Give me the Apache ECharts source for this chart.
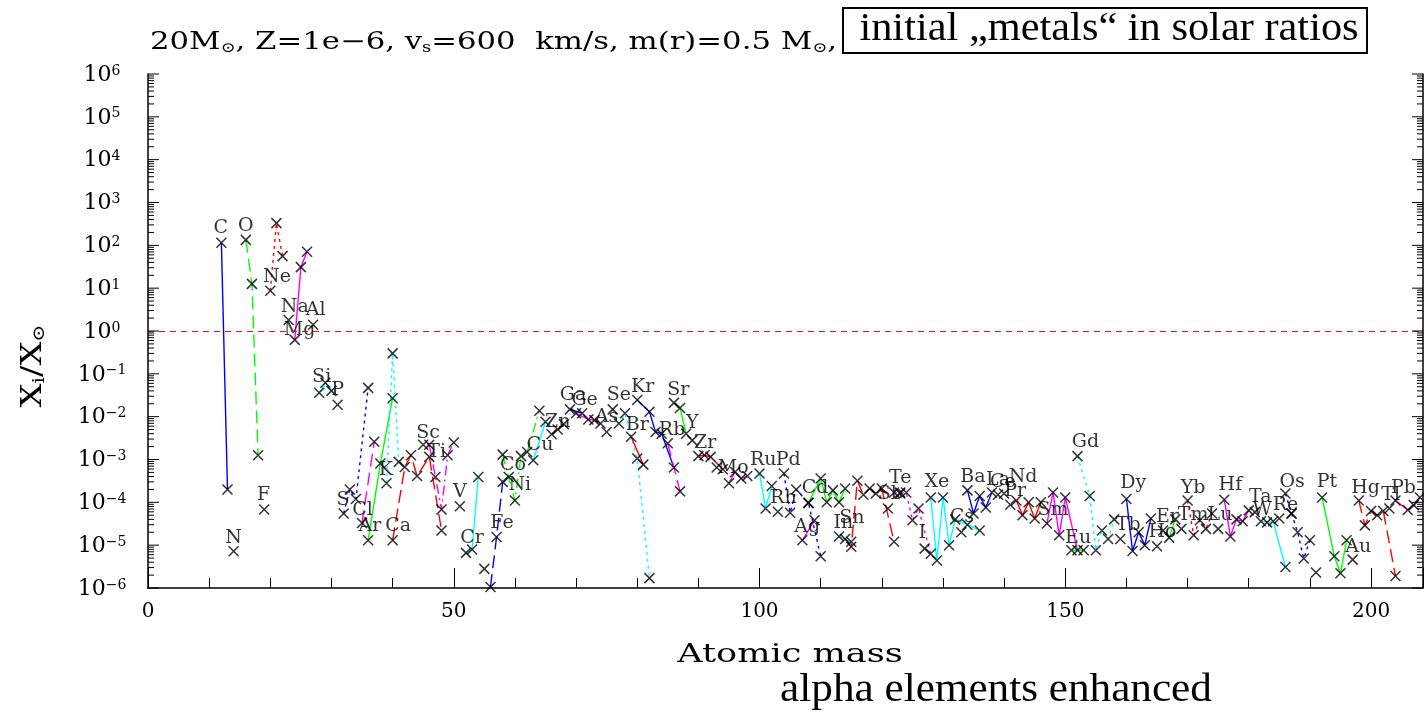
<!DOCTYPE html>
<html><head><meta charset="utf-8">
<script src="https://cdn.jsdelivr.net/npm/echarts@6/dist/echarts.min.js"></script>
<style>html,body{margin:0;padding:0;background:#fff}#c{width:1424px;height:712px}</style>
</head><body><div id="c"></div>
<script>
// ---- data ----
const elements = ['C','N','O','F','Ne','Na','Mg','Al','Si','P','S','Cl','Ar','K','Ca','Sc','Ti','V','Cr','Mn','Fe','Co','Ni','Cu','Zn','Ga','Ge','As','Se','Br','Kr','Rb','Sr','Y','Zr','Nb','Mo','Ru','Rh','Pd','Ag','Cd','In','Sn','Sb','Te','I','Xe','Cs','Ba','La','Ce','Pr','Nd','Sm','Eu','Gd','Tb','Dy','Ho','Er','Tm','Yb','Lu','Hf','Ta','W','Re','Os','Ir','Pt','Au','Hg','Tl','Pb'];
const atomicNumber = [6,7,8,9,10,11,12,13,14,15,16,17,18,19,20,21,22,23,24,25,26,27,28,29,30,31,32,33,34,35,36,37,38,39,40,41,42,44,45,46,47,48,49,50,51,52,53,54,55,56,57,58,59,60,62,63,64,65,66,67,68,69,70,71,72,73,74,75,76,77,78,79,80,81,82];
const isoMass = [
 [12,13],[14],[16,17,18],[19],[20,21,22],[23],[24,25,26],[27],[28,29,30],[31],
 [32,33,34,36],[35,37],[36,38,40],[39,40,41],[40,42,43,44,46,48],[45],[46,47,48,49,50],[51],[52,53,54],[55],
 [56,57,58],[59],[58,60,61,62,64],[63,65],[66,67,68],[69,71],[70,72,73,74],[75],[76,77,78,80,82],[79,81],
 [80,82,83,84,86],[85,87],[86,87,88],[89],[90,91,92,94],[93],[95,96,97,98],[100,101,102],[103],[104,105,106,108,110],
 [107,109],[108,110,111,112,113,114],[113,115],[114,115,116,117,118,119,120,122],[121,123],[122,123,124,125,126,128],[127],[128,129,130,131,132,134,136],[133],[134,135,136,137,138],
 [139],[140],[141],[142,143,144,145,146],[147,148,149,150,152],[151,153],[152,154,155,156,157,158],[159],[160,161,162,163,164],[165],
 [166,167,168],[169],[170,171,172,173,174],[175],[176,177,178,179,180],[181],[182,183,184,186],[185,187],[186,187,188,189,190],[191],
 [192,194,195,196],[197],[198,199,200,201,202,204],[203],[204,206,207,208]
];
const isoRatio = [
 [115,2.0e-4],[7.2e-6],[134,12.6,1.26e-3],[6.8e-5],[8.7,330,56],[1.8],[0.62,31,71],[1.4],[0.036,0.062,0.040],[0.019],
 [5.5e-5,2.0e-4,1.2e-4,0.047],[3.3e-5,2.6e-3],[1.3e-5,8.1e-4,0.027],[2.8e-4,0.30,8.8e-4],[1.3e-5,6.7e-4,1.26e-3,4.1e-4,1.15e-3,2.2e-5],[2.2e-3],[2.2e-3,3.9e-4,6.8e-5,1.26e-3,2.5e-3],[8.1e-5],[6.6e-6,7.9e-6,3.9e-4],[2.8e-6],
 [1.05e-6,1.55e-5,3.0e-4],[3.9e-4],[1.3e-3,1.1e-4,1.2e-3,1.5e-3,0.0138],[9.6e-4,7.6e-3],[3.9e-3,5.0e-3,6.7e-3],[0.0148,0.012],[0.012,8.6e-3,8.3e-3,6.9e-3],[4.4e-3],[0.0148,6.9e-3,0.012,1.05e-3,1.7e-6],[3.4e-3,7.6e-4],
 [0.0245,0.013,4.4e-3,4.0e-3,6.5e-4],[2.4e-3,1.8e-4],[0.021,0.016,4.0e-3],[2.8e-3],[1.2e-3,1.26e-3,1.15e-3,5.9e-4],[6.5e-4],[2.8e-4,5.1e-4,3.6e-4,4.1e-4],[4.7e-4,7.2e-5,2.4e-4],[6.0e-5],[4.7e-4,5.7e-5,2.0e-4,9.7e-5,5.5e-6],
 [1.3e-5,3.8e-5],[9.7e-5,3.6e-4,1.0e-4,1.9e-4,1.0e-4,2.1e-4],[1.6e-5,1.2e-5],[1.4e-5,9.2e-6,3.2e-4,1.5e-4,2.1e-4,1.6e-4,2.1e-4,1.2e-5],[7.2e-5,1.7e-4],[1.7e-4,1.6e-4,1.7e-4,3.8e-5,7.2e-5,6.3e-6],[8.3e-6],[1.3e-4,4.4e-6,1.3e-4,1.0e-5,4.0e-5,3.0e-5,2.2e-5],[2.0e-5],[1.9e-4,5.5e-5,1.4e-4,7.6e-5,1.7e-4],
 [1.5e-4],[1.6e-4],[8.8e-5],[1.1e-4,5.0e-5,1.0e-4,4.2e-5,1.0e-4],[3.2e-5,1.7e-4,1.7e-5,1.3e-4,7.6e-6],[7.6e-6,7.6e-6],[1.2e-3,1.4e-4,7.6e-6,2.2e-5,1.4e-5,4.0e-5],[1.4e-5],[1.2e-4,7.3e-6,2.0e-5,1.0e-5,4.2e-5],[9.4e-6],
 [2.2e-5,1.5e-5,4.0e-5],[2.4e-5],[1.1e-4,1.7e-5,3.8e-5,2.4e-5,5.5e-5],[2.4e-5],[1.15e-4,1.6e-5,4.0e-5,3.6e-5,6.5e-5],[5.9e-5],[3.6e-5,3.4e-5,3.6e-5,3.1e-6],[4.2e-5,5.5e-5],[1.6e-4,5.5e-5,2.0e-5,4.9e-6,1.3e-5],[2.3e-6],
 [1.3e-4,5.5e-6,2.2e-6,1.3e-5],[4.6e-6],[1.1e-4,2.9e-5,6.3e-5,5.0e-5,6.3e-5,1.9e-6],[7.2e-5],[1.1e-4,6.6e-5,8.6e-5,1.3e-4]
];
// line pattern per element: s solid, d dashed, o dotted, dd dash-dot, n none
const linePattern = ['s','s','d','s','o','s','s','s','s','s','o','d','s','o','d','s','dd','s','s','s','d','s','dd','s','s','s','s','s','o','s','s','d','s','s','d','s','s','s','s','o','s','s','s','d','n','o','s','s','s','s','s','s','s','s','s','s','o','s','s','s','s','s','o','s','s','s','s','n','o','s','s','s','d','s','s'];
// element label anchor positions [atomic mass, ratio]; null = no label
const labelMass = [11.9,14.0,16.0,18.9,21.1,24.0,24.8,27.4,28.4,31.0,31.9,35.1,36.3,38.9,40.9,45.8,47.2,51.0,53.0,null,57.9,59.7,60.8,64.1,67.0,69.5,71.4,75.0,77.0,80.0,80.9,85.7,86.7,89.0,91.1,null,95.7,100.6,103.9,104.7,107.8,109.1,113.7,115.1,121.4,123.0,126.6,129.0,133.1,134.9,139.0,139.8,141.8,143.1,148.0,152.1,153.3,160.3,161.1,165.9,166.7,170.9,170.9,175.3,177.0,181.9,182.2,186.0,187.1,null,192.8,197.9,199.1,203.2,205.3];
const labelRatio = [257,1.5e-5,285,1.5e-4,18,3.6,1.05,3.1,0.083,0.042,1.1e-4,6.6e-5,2.8e-5,5.6e-4,2.8e-5,4.1e-3,1.5e-3,1.7e-4,1.45e-5,null,3.2e-5,7.4e-4,2.5e-4,2.2e-3,7.4e-3,0.032,0.024,9.8e-3,0.032,6.3e-3,0.049,4.9e-3,0.042,7.1e-3,2.4e-3,null,6.3e-4,9.6e-4,1.25e-4,9.6e-4,2.6e-5,2.2e-4,3.2e-5,4.3e-5,1.6e-4,3.7e-4,1.9e-5,3.0e-4,4.5e-5,3.9e-4,3.3e-4,3.0e-4,1.8e-4,3.9e-4,6.6e-5,1.5e-5,2.6e-3,2.9e-5,2.8e-4,2.0e-5,4.5e-5,5.0e-5,2.2e-4,5.0e-5,2.5e-4,1.3e-4,6.6e-5,8.5e-5,3.0e-4,null,3.0e-4,8.9e-6,2.2e-4,1.5e-4,2.2e-4];
const xTickLabels = [0,50,100,150,200];
const yExponents = [-6,-5,-4,-3,-2,-1,0,1,2,3,4,5,6];
const solarLine = 1;

// ---- styling ----
const X_MAX = 208.5;
const cycleColors = ['#ff0000','#0000ff','#ff00ff','#00ff00','#00ffff']; // indexed by Z mod 5
const dashMap = {s:'solid', d:[13,6], o:[3,4], dd:[10,4,2,4]};
const serif = '"DejaVu Serif", "Liberation Serif", serif';

const series = [];
elements.forEach((el, i) => {
  if (isoMass[i].length < 2 || linePattern[i] === 'n') return;
  series.push({
    type:'line', name: el, silent:true, animation:false, z:2,
    showSymbol:false, symbol:'none',
    data: isoMass[i].map((m,k)=>[m, isoRatio[i][k]]),
    lineStyle:{color: cycleColors[atomicNumber[i] % 5], width:1.4, type: dashMap[linePattern[i]]}
  });
});
const markerData = [];
elements.forEach((el,i)=> isoMass[i].forEach((m,k)=> markerData.push([m, isoRatio[i][k]])));
series.push({
  type:'scatter', silent:true, animation:false, z:3,
  symbol:'path://M0,0L10,10M10,0L0,10', symbolSize:10,
  itemStyle:{color:'rgba(0,0,0,0)', borderColor:'#000', borderWidth:1.5},
  data: markerData,
  markLine:{silent:true, symbol:'none', animation:false, label:{show:false},
    lineStyle:{color:'#e01818', type:[6,5], width:1.2, opacity:1}, data:[{yAxis: solarLine}]}
});
const labelData = [];
elements.forEach((el,i)=>{ if (labelMass[i] !== null) labelData.push({value:[labelMass[i], labelRatio[i]], name: el}); });
series.push({
  type:'scatter', silent:true, animation:false, z:4, symbolSize:0,
  data: labelData,
  label:{show:true, position:'inside', formatter: p=>p.name, color:'#000', fontFamily: serif, fontSize:19}
});
// log minor ticks on both vertical axes
const minorVals = [];
yExponents.slice(0,-1).forEach(e => { for (let k=2;k<=9;k++) minorVals.push([0, k*Math.pow(10,e)]); });
series.push({
  type:'custom', silent:true, animation:false, z:5, clip:false,
  encode:{x:0, y:1}, data: minorVals,
  renderItem:(params, api)=>{
    const v = api.value(1);
    const pL = api.coord([0, v]);
    const pR = api.coord([X_MAX, v]);
    return {type:'group', children:[
      {type:'line', shape:{x1:pL[0], y1:pL[1], x2:pL[0]+6, y2:pL[1]}, style:{stroke:'#000', lineWidth:1}},
      {type:'line', shape:{x1:pR[0], y1:pR[1], x2:pR[0]-6, y2:pR[1]}, style:{stroke:'#000', lineWidth:1}}
    ]};
  }
});
// decade ticks + labels (10^n) on the vertical axes
const yRich = {
  b:{fontFamily:serif, fontSize:22, lineHeight:22, verticalAlign:'bottom', fill:'#000', color:'#000'},
  s:{fontFamily:serif, fontSize:14, lineHeight:14, verticalAlign:'top', fill:'#000', color:'#000', padding:[0,0,4,0]}
};
series.push({
  type:'custom', silent:true, animation:false, z:5, clip:false,
  encode:{x:0, y:1}, data: yExponents.map(e => [0, Math.pow(10, e)]),
  renderItem:(params, api)=>{
    const v = api.value(1);
    const e = Math.round(Math.log10(v));
    const pL = api.coord([0, v]);
    const pR = api.coord([X_MAX, v]);
    return {type:'group', children:[
      {type:'line', shape:{x1:pL[0], y1:pL[1], x2:pL[0]+11, y2:pL[1]}, style:{stroke:'#000', lineWidth:1}},
      {type:'line', shape:{x1:pR[0], y1:pR[1], x2:pR[0]-11, y2:pR[1]}, style:{stroke:'#000', lineWidth:1}},
      {type:'text', x:pL[0]-46, y:pL[1]+1, style:{
        text:'{b|10}{s|' + (e < 0 ? '\u2212' + (-e) : e) + '}',
        align:'center', verticalAlign:'middle', fill:'#000', rich:yRich}}
    ]};
  }
});

const yAxisBase = {
  type:'log', logBase:10, min:1e-6, max:1e6,
  axisLine:{show:true, lineStyle:{color:'#000', width:1.5}},
  axisTick:{show:false}, axisLabel:{show:false},
  splitLine:{show:false}, minorTick:{show:false}
};

const chart = echarts.init(document.getElementById('c'), null, {renderer:'canvas'});
chart.setOption({
  backgroundColor:'#fff',
  animation:false,
  grid:{left:148, right:1, top:74, bottom:124, containLabel:false},
  xAxis:{
    type:'value', min:0, max:X_MAX, interval:50,
    axisLine:{show:true, onZero:false, lineStyle:{color:'#000', width:1.5}},
    axisTick:{show:true, inside:true, length:20, lineStyle:{color:'#000', width:1}},
    minorTick:{show:true, splitNumber:5, length:10, lineStyle:{color:'#000', width:1}},
    splitLine:{show:false},
    axisLabel:{margin:14, showMaxLabel:false, color:'#000', fontFamily:serif, fontSize:20,
      formatter: v => xTickLabels.includes(v) ? String(v) : ''}
  },
  yAxis:[
    Object.assign({}, yAxisBase, {position:'left'}),
    Object.assign({}, yAxisBase, {position:'right'})
  ],
  series: series,
  graphic:[
    {type:'text', x:150, y:31, scaleX:1.28, style:{
      text:'{t|20M}{u|\u2299}{t|, Z=1e\u22126, v}{u|s}{t|=600  km/s, m(r)=0.5 M}{u|\u2299}{t|,}',
      fill:'#000', textVerticalAlign:'top',
      rich:{t:{fontFamily:serif, fontSize:24, lineHeight:24, verticalAlign:'top'},
            u:{fontFamily:serif, fontSize:14, lineHeight:14, verticalAlign:'bottom'}}}},
    {type:'rect', shape:{x:843, y:8, width:524, height:45}, style:{fill:'#fff', stroke:'#000', lineWidth:2}, z:10},
    {type:'text', x:1109, y:29, scaleX:1.06, z:11, style:{text:'initial \u201Emetals\u201C in solar ratios',
      fill:'#000', font:'40px "Liberation Serif", serif', textAlign:'center', textVerticalAlign:'middle'}},
    {type:'text', x:790, y:655, scaleX:1.35, style:{text:'Atomic mass', fill:'#000',
      font:'26px ' + serif, textAlign:'center', textVerticalAlign:'middle'}},
    {type:'text', x:996, y:690, scaleX:1.08, style:{text:'alpha elements enhanced', fill:'#000',
      font:'40px "Liberation Serif", serif', textAlign:'center', textVerticalAlign:'middle'}},
    {type:'text', x:34, y:366, rotation:Math.PI/2, scaleX:1.2, style:{
      text:'{t|X}{u|i}{t|/X}{u|\u2299}', fill:'#000', textAlign:'center', textVerticalAlign:'middle',
      rich:{t:{fontFamily:serif, fontSize:28, lineHeight:28, verticalAlign:'top'},
            u:{fontFamily:serif, fontSize:17, lineHeight:17, verticalAlign:'bottom'}}}}
  ]
});
</script></body></html>
